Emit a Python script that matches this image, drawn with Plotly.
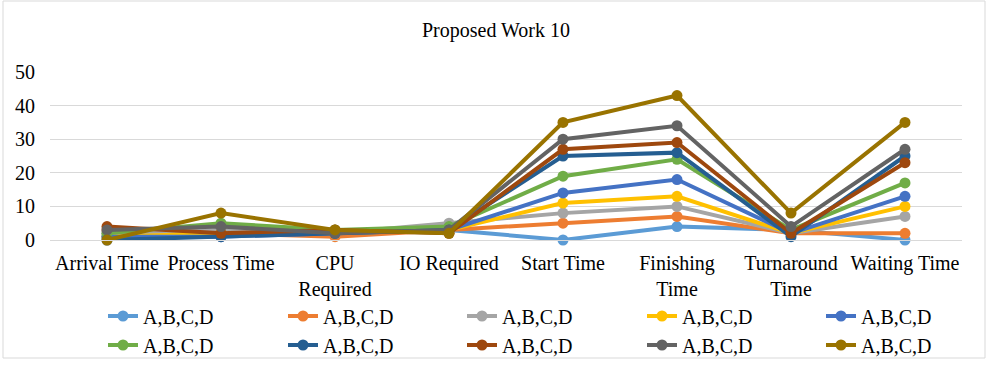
import plotly.graph_objects as go

categories = ["Arrival Time", "Process Time", "CPU<br>Required", "IO Required",
              "Start Time", "Finishing<br>Time", "Turnaround<br>Time", "Waiting Time"]
series_names = ["A,B,C,D"] * 10
colors = ["#5B9BD5", "#ED7D31", "#A5A5A5", "#FFC000", "#4472C4",
          "#70AD47", "#255E91", "#9E480E", "#636363", "#997300"]

s1 = [1, 2, 2, 3, 0, 4, 3, 0]
s2 = [3, 2, 1, 3, 5, 7, 2, 2]
s3 = [2, 3, 2, 5, 8, 10, 2, 7]
s4 = [1, 2, 2, 3, 11, 13, 2, 10]
s5 = [1, 1, 2, 3, 14, 18, 2, 13]
s6 = [2, 5, 3, 4, 19, 24, 3, 17]
s7 = [0, 1, 2, 3, 25, 26, 1, 25]
s8 = [4, 2, 3, 2, 27, 29, 2, 23]
s9 = [3, 4, 2, 3, 30, 34, 4, 27]
s10 = [0, 8, 3, 2, 35, 43, 8, 35]
all_series = [s1, s2, s3, s4, s5, s6, s7, s8, s9, s10]

FONT = "Liberation Serif, Times New Roman, serif"
FS = 20

L, R, T, B = 50, 30, 72, 128
pw = 992 - L - R
ph = 368 - T - B


def px_x(x):
    return (x - L) / pw


def px_y(y):
    return (368 - B - y) / ph


fig = go.Figure()
legends = {}
col_x = [103, 283, 462, 642, 821]
row_y = [316, 345]
for i, (vals, col, name) in enumerate(zip(all_series, colors, series_names)):
    key = "legend" if i == 0 else f"legend{i + 1}"
    fig.add_trace(go.Scatter(
        x=categories, y=vals, name=name, mode="lines+markers",
        line=dict(color=col, width=4), marker=dict(color=col, size=11),
        cliponaxis=False, legend=key,
    ))
    legends[key] = dict(
        x=px_x(col_x[i % 5]), y=px_y(row_y[i // 5]),
        xanchor="left", yanchor="middle", orientation="h",
        font=dict(family=FONT, size=FS, color="#000"),
        bgcolor="rgba(0,0,0,0)", itemclick=False, itemdoubleclick=False,
    )

fig.update_layout(
    width=992, height=368,
    margin=dict(l=L, r=R, t=T, b=B, autoexpand=False),
    paper_bgcolor="white", plot_bgcolor="white",
    font=dict(family=FONT, size=FS, color="#000"),
    title=dict(text="Proposed Work 10", x=0.5, xanchor="center",
               y=1 - 30 / 368, yanchor="middle",
               font=dict(family=FONT, size=FS, color="#000")),
    xaxis=dict(type="category", range=[-0.5, 7.5], showgrid=False,
               showline=True, linecolor="#D9D9D9", linewidth=1,
               ticks="", tickfont=dict(family=FONT, size=FS, color="#000"),
               ticklabelstandoff=5,
               fixedrange=True, automargin=False),
    yaxis=dict(range=[0, 50], dtick=10, showgrid=True, gridcolor="#D9D9D9",
               gridwidth=1, zeroline=False, showline=False, ticks="",
               tickfont=dict(family=FONT, size=FS, color="#000"),
               ticklabelstandoff=14,
               fixedrange=True, automargin=False),
    shapes=[dict(type="rect", xref="paper", yref="paper",
                 x0=px_x(3), x1=px_x(985), y0=px_y(358), y1=px_y(1),
                 line=dict(color="#D9D9D9", width=1), layer="below")],
    showlegend=True,
    **legends,
)

fig.write_html("out.html")
